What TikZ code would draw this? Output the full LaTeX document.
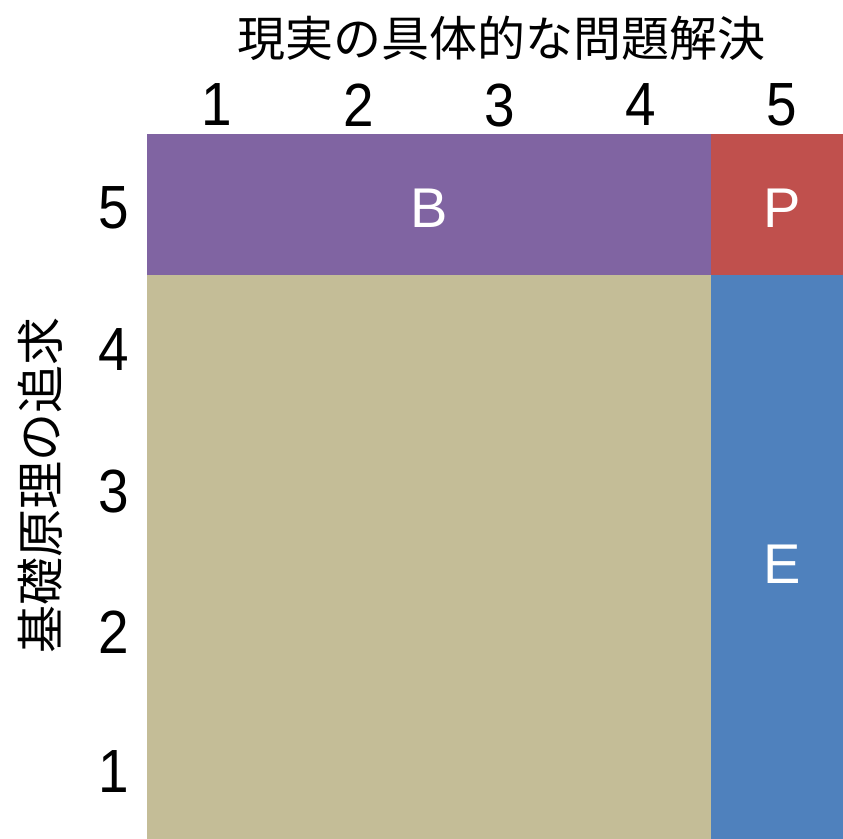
\documentclass[tikz,border=0pt]{standalone}
\usepackage{fontspec}
\setmainfont{Liberation Sans}
\newfontfamily\jp{Noto Sans CJK JP}
\definecolor{cB}{HTML}{8064A2}
\definecolor{cP}{HTML}{C0504D}
\definecolor{cT}{HTML}{C4BD97}
\definecolor{cE}{HTML}{4F81BD}
\tikzset{
  axistitle/.style={font=\jp\fontsize{48}{56}\selectfont, inner sep=0pt},
  digit/.style={font=\fontsize{61}{70}\selectfont, inner sep=0pt, xscale=0.9, transform shape},
  region/.style={font=\fontsize{56}{64}\selectfont, text=white, inner sep=0pt}
}
\begin{document}
\begin{tikzpicture}[x=1pt,y=-1pt]
\clip (0,0) rectangle (843,838);
\fill[white] (0,0) rectangle (843,838);
% regions
\fill[cB] (147,134) rectangle (711,275);
\fill[cP] (711,134) rectangle (852,275);
\fill[cT] (147,275) rectangle (711,852);
\fill[cE] (711,275) rectangle (852,852);
\node[region] (B) at (429,208) {B};
\node[region] (P) at (782,208) {P};
\node[region] (E) at (782,564) {E};
% titles
\node[axistitle] (xt) at (501,38) {現実の具体的な問題解決};
\node[axistitle, rotate=90] (yt) at (40,485) {基礎原理の追求};
% column labels
\node[digit] (c1) at (217,105) {1};
\node[digit] (c2) at (359,105) {2};
\node[digit] (c3) at (500,105) {3};
\node[digit] (c4) at (641,105) {4};
\node[digit] (c5) at (782,105) {5};
% row labels
\node[digit] (r5) at (114,208) {5};
\node[digit] (r4) at (114,350) {4};
\node[digit] (r3) at (114,491) {3};
\node[digit] (r2) at (114,632) {2};
\node[digit] (r1) at (114,772) {1};
\end{tikzpicture}
\end{document}
